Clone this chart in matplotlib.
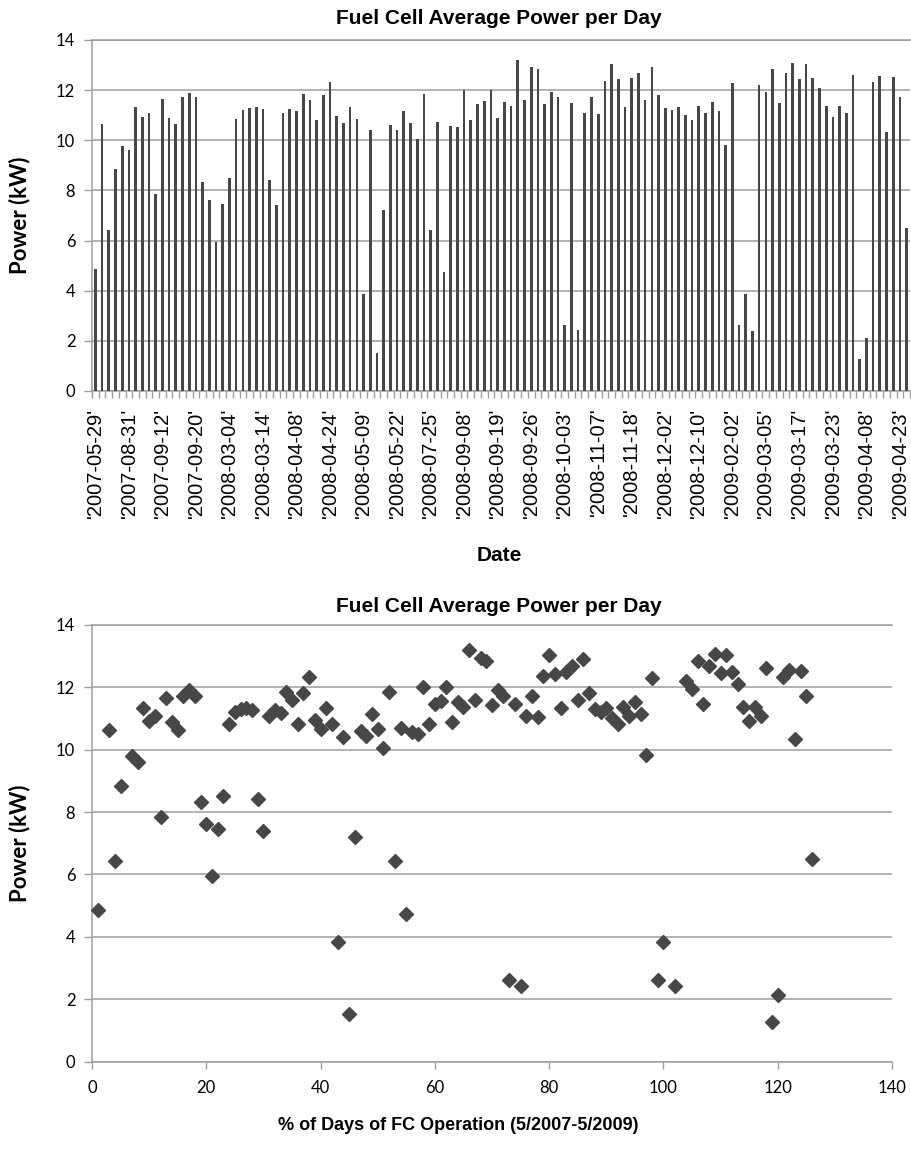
import numpy as np
import matplotlib.pyplot as plt

# daily average fuel cell power (kW), one value per operating day
power = [4.85, 10.64, 6.44, 8.85, 9.79, 9.61, 11.34, 10.92, 11.09, 7.84,
         11.65, 10.89, 10.64, 11.72, 11.90, 11.73, 8.34, 7.62, 5.94, 7.46,
         8.51, 10.84, 11.21, 11.30, 11.33, 11.26, 8.42, 7.40, 11.09, 11.26,
         11.18, 11.85, 11.60, 10.81, 11.81, 12.32, 10.96, 10.67, 11.34, 10.84,
         3.85, 10.41, 1.52, 7.20, 10.59, 10.43, 11.15, 10.67, 10.04, 11.85,
         6.44, 10.71, 4.73, 10.57, 10.51, 12.01, 10.81, 11.46, 11.56, 12.01,
         10.88, 11.53, 11.38, 13.21, 11.60, 12.93, 12.86, 11.44, 11.93, 11.72,
         2.62, 11.48, 2.44, 11.09, 11.72, 11.05, 12.36, 13.05, 12.44, 11.34,
         12.48, 12.70, 11.60, 12.92, 11.81, 11.30, 11.21, 11.33, 11.01, 10.81,
         11.38, 11.09, 11.53, 11.15, 9.83, 12.29, 2.62, 3.85, 2.41, 12.20,
         11.94, 12.84, 11.48, 12.68, 13.08, 12.45, 13.05, 12.49, 12.10, 11.38,
         10.92, 11.38, 11.09, 12.61, 1.26, 2.12, 12.32, 12.57, 10.33, 12.53,
         11.73, 6.51]

# x position of each day in the lower chart
day_pos = [1, 3, 4, 5, 7, 8, 9, 10, 11, 12, 13, 14, 15, 16, 17, 18, 19, 20,
           21, 22, 23, 24, 25, 26, 27, 28, 29, 30, 31, 32, 33, 34, 35, 36, 37,
           38, 39, 40, 41, 42, 43, 44, 45, 46, 47, 48, 49, 50, 51, 52, 53, 54,
           55, 56, 57, 58, 59, 60, 61, 62, 63, 64, 65, 66, 67, 68, 69, 70, 71,
           72, 73, 74, 75, 76, 77, 78, 79, 80, 81, 82, 83, 84, 85, 86, 87, 88,
           89, 90, 91, 92, 93, 94, 95, 96, 97, 98, 99, 100, 102, 104, 105, 106,
           107, 108, 109, 110, 111, 112, 113, 114, 115, 116, 117, 118, 119, 120,
           121, 122, 123, 124, 125, 126]

# dates shown under every fifth bar
date_labels = ["'2007-05-29'", "'2007-08-31'", "'2007-09-12'", "'2007-09-20'",
               "'2008-03-04'", "'2008-03-14'", "'2008-04-08'", "'2008-04-24'",
               "'2008-05-09'", "'2008-05-22'", "'2008-07-25'", "'2008-09-08'",
               "'2008-09-19'", "'2008-09-26'", "'2008-10-03'", "'2008-11-07'",
               "'2008-11-18'", "'2008-12-02'", "'2008-12-10'", "'2009-02-02'",
               "'2009-03-05'", "'2009-03-17'", "'2009-03-23'", "'2009-04-08'",
               "'2009-04-23'"]
label_step = 5

y_ticks = [0, 2, 4, 6, 8, 10, 12, 14]
x_ticks = [0, 20, 40, 60, 80, 100, 120, 140]

dark = '#474747'
grid_col = '#9e9e9e'
num_font = 'Lato'
head_font = 'Liberation Sans'

W, H = 912, 1153
fig = plt.figure(figsize=(W / 100, H / 100), dpi=100)

# ==============================================================================
# TOP: bar chart by date
# ==============================================================================
ax1 = fig.add_axes([92 / W, 1 - 391 / H, 818 / W, 351 / H])
n = len(power)
xb = np.arange(n)
ax1.bar(xb, power, width=0.4, color=dark, zorder=3)
ax1.set_xlim(-0.5, n - 0.5)
ax1.set_ylim(0, 14)
ax1.set_yticks(y_ticks)
ax1.set_yticklabels([str(v) for v in y_ticks], fontfamily=num_font, fontsize=12)
ax1.set_xticks(xb[::label_step])
ax1.set_xticklabels(date_labels, rotation=90, fontfamily=head_font, fontsize=14.5)
ax1.set_xticks(np.arange(n + 1) - 0.5, minor=True)
ax1.tick_params(axis='x', which='major', length=0, pad=12)
ax1.tick_params(axis='x', which='minor', length=5, color=grid_col, width=1)
ax1.tick_params(axis='y', length=6, color=grid_col, width=1, pad=6)
ax1.grid(axis='y', color=grid_col, linewidth=1.1, zorder=0)
ax1.spines['right'].set_visible(False)
for side in ['left', 'bottom', 'top']:
    ax1.spines[side].set_color(grid_col)
    ax1.spines[side].set_linewidth(1.1)

fig.text(20 / W, 1 - 215 / H, 'Power (kW)', rotation=90, ha='center', va='center',
         fontfamily=num_font, fontweight='bold', fontsize=16)
fig.text(499 / W, 1 - 18 / H, 'Fuel Cell Average Power per Day', ha='center', va='center',
         fontfamily=head_font, fontweight='bold', fontsize=15)
fig.text(499 / W, 1 - 555 / H, 'Date', ha='center', va='center',
         fontfamily=head_font, fontweight='bold', fontsize=15)

# ==============================================================================
# BOTTOM: scatter by day index
# ==============================================================================
ax2 = fig.add_axes([92 / W, 1 - 1061.6 / H, 800 / W, 436.6 / H])
ax2.plot(day_pos, power, linestyle='none', marker='D', markersize=6.8,
         color=dark, zorder=3, clip_on=False)
ax2.set_xlim(0, 140)
ax2.set_ylim(0, 14)
ax2.set_yticks(y_ticks)
ax2.set_yticklabels([str(v) for v in y_ticks], fontfamily=num_font, fontsize=12)
ax2.set_xticks(x_ticks)
ax2.set_xticklabels([str(v) for v in x_ticks], fontfamily=num_font, fontsize=12)
ax2.tick_params(axis='y', length=6, color=grid_col, width=1, pad=6)
ax2.tick_params(axis='x', length=5, color=grid_col, width=1, pad=8)
ax2.grid(axis='y', color=grid_col, linewidth=1.1, zorder=0)
ax2.spines['right'].set_visible(False)
for side in ['left', 'bottom', 'top']:
    ax2.spines[side].set_color(grid_col)
    ax2.spines[side].set_linewidth(1.1)

fig.text(20 / W, 1 - 843 / H, 'Power (kW)', rotation=90, ha='center', va='center',
         fontfamily=num_font, fontweight='bold', fontsize=16)
fig.text(499 / W, 1 - 606 / H, 'Fuel Cell Average Power per Day', ha='center', va='center',
         fontfamily=head_font, fontweight='bold', fontsize=15)
fig.text(458 / W, 1 - 1125 / H, '% of Days of FC Operation (5/2007-5/2009)', ha='center',
         va='center', fontfamily=head_font, fontweight='bold', fontsize=13)

plt.savefig('out.png', dpi=100)
